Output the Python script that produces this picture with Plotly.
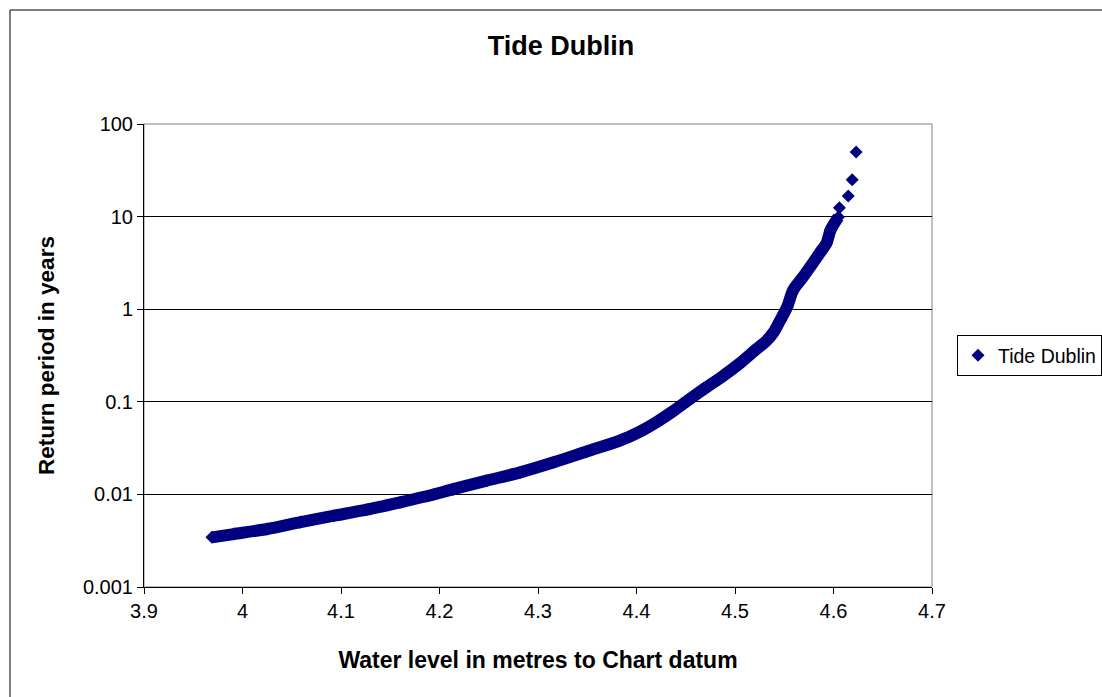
import plotly.graph_objects as go

# Water level (m to Chart datum) and return period (years), ordered by level
water_level = [3.969, 3.991, 4.025, 4.059, 4.093, 4.126, 4.160, 4.194, 4.214,
               4.248, 4.282, 4.316, 4.350, 4.383, 4.404, 4.420, 4.437, 4.454,
               4.471, 4.488, 4.505, 4.522, 4.531, 4.539, 4.546, 4.553, 4.559,
               4.569, 4.579, 4.586, 4.593, 4.597, 4.605, 4.606, 4.615, 4.619,
               4.623]
return_period = [0.00344, 0.00373, 0.00423, 0.00503, 0.00589, 0.00684, 0.00822,
                 0.00997, 0.0114, 0.0141, 0.0173, 0.0222, 0.0292, 0.0380,
                 0.048, 0.060, 0.079, 0.107, 0.1435, 0.191, 0.261, 0.372,
                 0.445, 0.560, 0.764, 1.06, 1.61, 2.23, 3.15, 4.04, 5.19,
                 7.17, 9.9, 12.5, 16.7, 25, 50]

x_ticks = [3.9, 4.0, 4.1, 4.2, 4.3, 4.4, 4.5, 4.6, 4.7]
x_tick_text = ["3.9", "4", "4.1", "4.2", "4.3", "4.4", "4.5", "4.6", "4.7"]
y_ticks = [0.001, 0.01, 0.1, 1, 10, 100]
y_tick_text = ["0.001", "0.01", "0.1", "1", "10", "100"]

NAVY = "#000080"
FONT = "Liberation Sans, Arial, sans-serif"

W, H = 1102, 697
L, R, T, B = 144, 170, 124, 110
pw, ph = W - L - R, H - T - B

# the densely packed observations form a continuous band up to ~10 years
dense = [i for i, p in enumerate(return_period) if p < 10]

fig = go.Figure()
fig.add_trace(go.Scatter(
    x=[water_level[i] for i in dense], y=[return_period[i] for i in dense],
    mode="lines", line=dict(color=NAVY, width=12, shape="spline", smoothing=0.8),
    showlegend=False, hoverinfo="skip"))
fig.add_trace(go.Scatter(
    x=water_level, y=return_period, mode="markers", name="Tide Dublin",
    marker=dict(symbol="diamond", size=10, color=NAVY, line=dict(width=0))))

axis_common = dict(
    showline=True, linecolor="black", linewidth=1,
    ticks="outside", ticklen=6, tickcolor="black",
    tickfont=dict(family=FONT, size=20, color="black"),
    mirror=False, zeroline=False,
)

fig.update_xaxes(
    range=[3.9, 4.7], tickvals=x_ticks, ticktext=x_tick_text,
    showgrid=False,
    title=dict(text="Water level in metres to Chart datum", standoff=30,
               font=dict(family=FONT, size=23, color="black", weight="bold")),
    **axis_common)
fig.update_yaxes(
    type="log", range=[-3, 2], tickvals=y_ticks, ticktext=y_tick_text,
    showgrid=True, gridcolor="black", gridwidth=1,
    title=dict(text="Return period in years", standoff=22,
               font=dict(family=FONT, size=22.5, color="black", weight="bold")),
    **axis_common)

# grey plot-area frame and the outer chart border
fig.add_shape(type="rect", xref="paper", yref="paper", x0=0, y0=0, x1=1, y1=1,
              line=dict(color="#808080", width=1), layer="below")
fig.add_shape(type="rect", xref="paper", yref="paper",
              x0=(10 - L) / pw, y0=-(H + 20 - T - ph) / ph,
              x1=(W + 20 - L) / pw, y1=1 + (T - 10) / ph,
              line=dict(color="black", width=1), layer="below")

fig.update_layout(
    width=W, height=H,
    margin=dict(l=L, r=R, t=T, b=B, autoexpand=False),
    paper_bgcolor="white", plot_bgcolor="white",
    title=dict(text="Tide Dublin", x=561 / W, xanchor="center",
               y=1 - 46 / H, yanchor="middle", yref="container",
               font=dict(family=FONT, size=27, color="black", weight="bold")),
    legend=dict(x=(957 - L) / pw, xanchor="left", y=0.5, yanchor="middle",
                bordercolor="black", borderwidth=1, bgcolor="white",
                font=dict(family=FONT, size=19.5, color="black")),
    showlegend=True,
)

fig.write_html("out.html")
